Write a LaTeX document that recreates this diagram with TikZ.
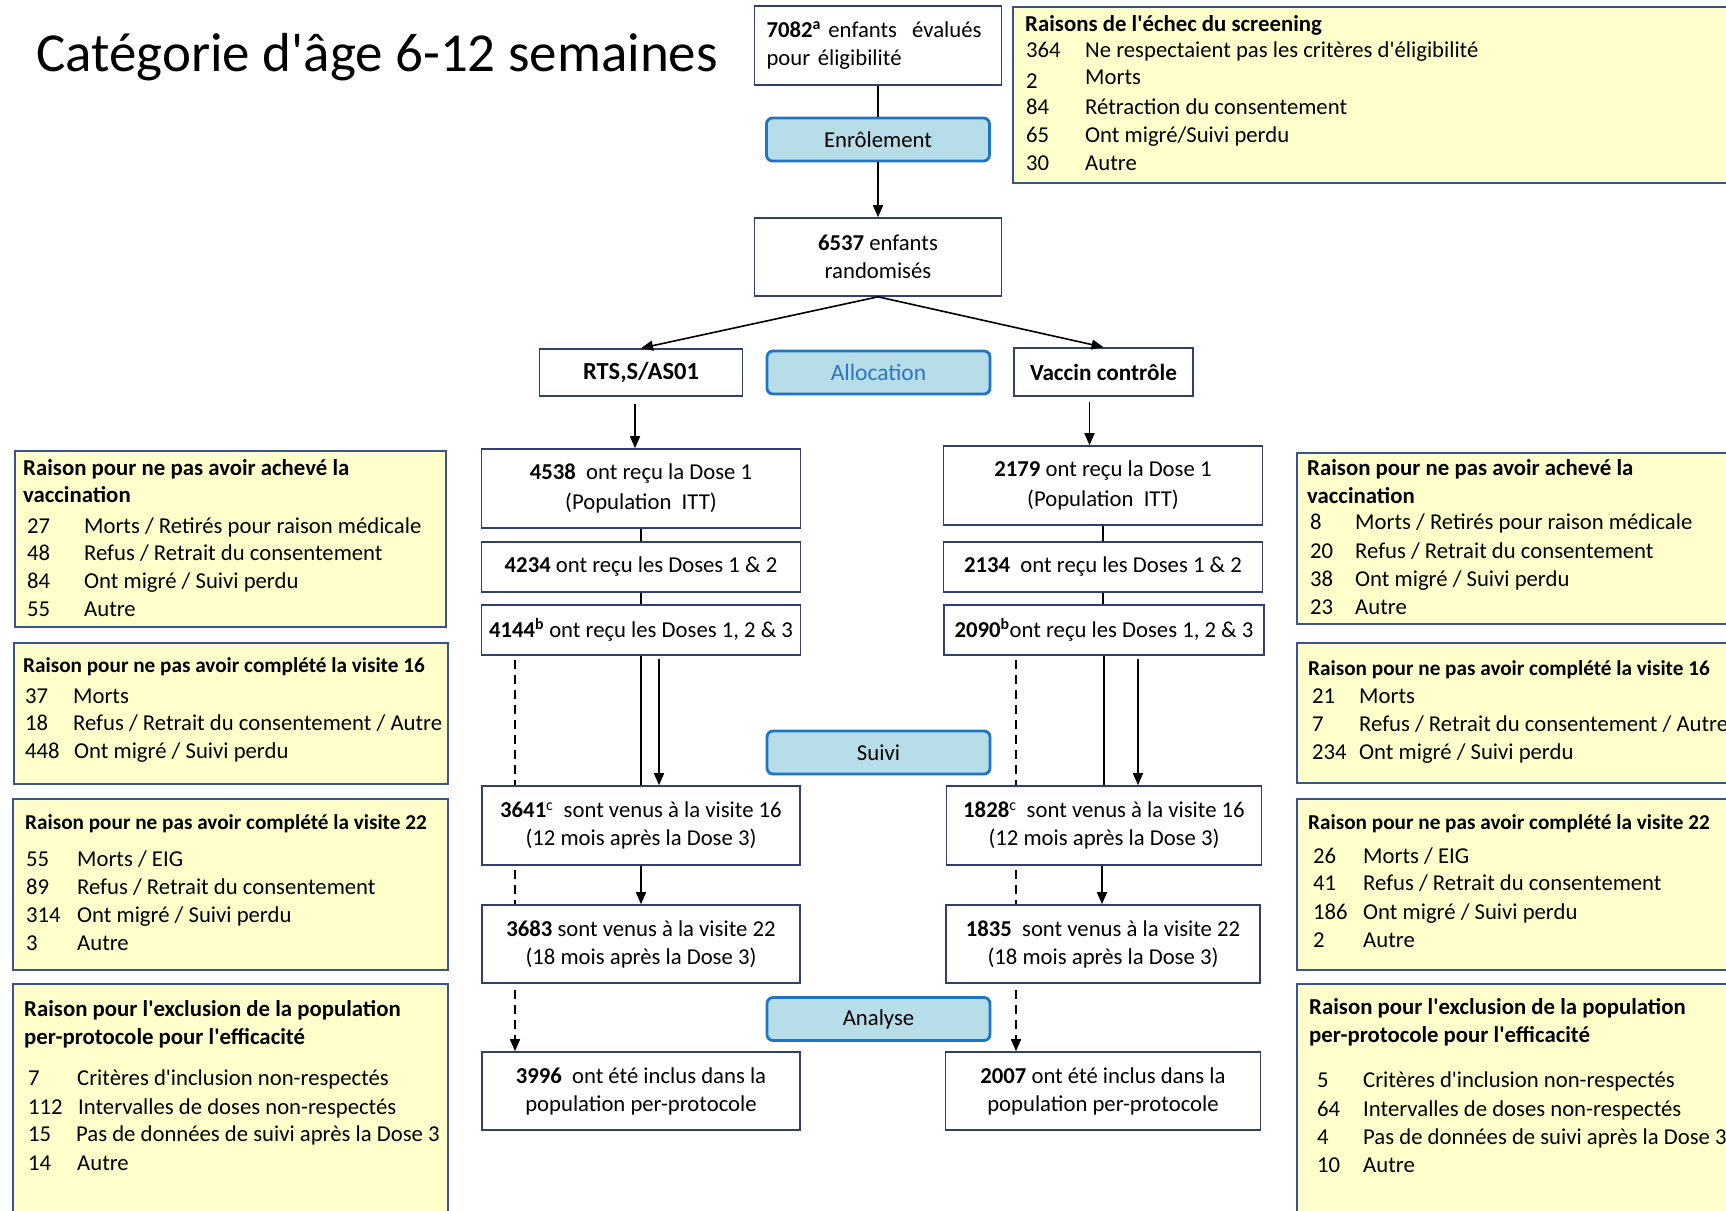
\documentclass[tikz,border=0pt]{standalone}
\usepackage{fontspec}
\setmainfont{Carlito}[Ligatures=TeXOff]
\usetikzlibrary{arrows.meta,calc,backgrounds}
\definecolor{mainborder}{HTML}{2E3F70}
\definecolor{yfill}{HTML}{FFFFCC}
\definecolor{yborder}{HTML}{3A5390}
\definecolor{pfill}{HTML}{B7DDE8}
\definecolor{pborder}{HTML}{1F74C4}
\definecolor{ptext}{HTML}{2E75C6}
\newcommand\fsz{\fontsize{22.7}{28}\selectfont}
\newcommand\fszt{\fontsize{21.2}{28}\selectfont}
\newcommand\fszT{\fontsize{22.8}{28}\selectfont}
\newcommand\yrow[6]{%
  \node[ytext] (#1n) at (#2,#4) {#5};
  \node[ytext] (#1l) at (#3,#4) {#6};}
\begin{document}
\begin{tikzpicture}[x=1pt,y=-1pt,
 mbox/.style={draw=mainborder,line width=1.6pt,fill=white,inner sep=0pt,align=center,font=\fsz},
 ybox/.style={draw=yborder,line width=1.6pt,fill=yfill,inner sep=0pt,anchor=north west},
 pbox/.style={draw=pborder,line width=2.8pt,fill=pfill,rounded corners=6pt,inner sep=0pt,font=\fsz,minimum width=223pt,minimum height=43pt},
 ytext/.style={inner sep=0pt,anchor=base west,font=\fsz},
 ytitle/.style={ytext,font=\fszT\bfseries},
 ytitles/.style={ytext,font=\fszt\bfseries},
 conn/.style={line width=1.6pt,black},
 arr/.style={conn,-{Triangle[width=10pt,length=12pt]}},
 darr/.style={arr,dash pattern=on 9pt off 6pt},
]
\useasboundingbox (0,0) rectangle (1726,1210);
\begin{scope}[on background layer]
\fill[white] (0,0) rectangle (1726,1210);
\end{scope}
\clip (0,0) rectangle (1726,1210);

% title
\node[inner sep=0pt,anchor=base west,font=\fontsize{55}{60}\selectfont] (title) at (36,71) {Catégorie d'âge 6-12 semaines};

% yellow boxes
\node[ybox,minimum width=730pt,minimum height=176pt] (yS) at (1012,6) {};
\node[ybox,minimum width=431pt,minimum height=176pt] (yL1) at (14,450) {};
\node[ybox,minimum width=434pt,minimum height=141pt] (yL2) at (13,642) {};
\node[ybox,minimum width=435pt,minimum height=171pt] (yL3) at (12,798) {};
\node[ybox,minimum width=435pt,minimum height=240pt] (yL4) at (12,983) {};
\node[ybox,minimum width=450pt,minimum height=171pt] (yR1) at (1296,452) {};
\node[ybox,minimum width=450pt,minimum height=140pt] (yR2) at (1296,642) {};
\node[ybox,minimum width=450pt,minimum height=171pt] (yR3) at (1296,798) {};
\node[ybox,minimum width=450pt,minimum height=240pt] (yR4) at (1296,983) {};

% screening text
\node[ytitle] (ySt) at (1025,31) {Raisons de l'échec du screening};
\yrow{yS1}{1026}{1085}{57}{364}{Ne respectaient pas les critères d'éligibilité}
\node[ytext] (yS2n) at (1026,88) {2};
\node[ytext] (yS2l) at (1085,84) {Morts};
\yrow{yS3}{1026}{1085}{114}{84}{Rétraction du consentement}
\yrow{yS4}{1026}{1085}{142}{65}{Ont migré/Suivi perdu}
\yrow{yS5}{1026}{1085}{170}{30}{Autre}

% left 1
\node[ytitle] (yL1t1) at (23,475) {Raison pour ne pas avoir achevé la};
\node[ytitle] (yL1t2) at (23,502) {vaccination};
\yrow{yL1a}{27}{84}{533}{27}{Morts / Retirés pour raison médicale}
\yrow{yL1b}{27}{84}{560}{48}{Refus / Retrait du consentement}
\yrow{yL1c}{27}{84}{588}{84}{Ont migré / Suivi perdu}
\yrow{yL1d}{27}{84}{616}{55}{Autre}
% left 2
\node[ytitles] (yL2t) at (23,672) {Raison pour ne pas avoir complété la visite 16};
\yrow{yL2a}{25}{73}{703}{37}{Morts}
\yrow{yL2b}{25}{73}{730}{18}{Refus / Retrait du consentement / Autre}
\yrow{yL2c}{25}{74}{758}{448}{Ont migré / Suivi perdu}
% left 3
\node[ytitles] (yL3t) at (25,829) {Raison pour ne pas avoir complété la visite 22};
\yrow{yL3a}{26}{77}{866}{55}{Morts / EIG}
\yrow{yL3b}{26}{77}{894}{89}{Refus / Retrait du consentement}
\yrow{yL3c}{26}{77}{922}{314}{Ont migré / Suivi perdu}
\yrow{yL3d}{26}{77}{950}{3}{Autre}
% left 4
\node[ytitle] (yL4t1) at (24,1016) {Raison pour l'exclusion de la population};
\node[ytitle] (yL4t2) at (24,1044) {per-protocole pour l'efficacité};
\yrow{yL4a}{28}{77}{1085}{7}{Critères d'inclusion non-respectés}
\yrow{yL4b}{28}{78}{1114}{112}{Intervalles de doses non-respectés}
\yrow{yL4c}{28}{76}{1141}{15}{Pas de données de suivi après la Dose 3}
\yrow{yL4d}{28}{77}{1170}{14}{Autre}

% right 1
\node[ytitle] (yR1t1) at (1307,475) {Raison pour ne pas avoir achevé la};
\node[ytitle] (yR1t2) at (1307,503) {vaccination};
\yrow{yR1a}{1310}{1355}{529}{8}{Morts / Retirés pour raison médicale}
\yrow{yR1b}{1310}{1355}{558}{20}{Refus / Retrait du consentement}
\yrow{yR1c}{1310}{1355}{586}{38}{Ont migré / Suivi perdu}
\yrow{yR1d}{1310}{1355}{614}{23}{Autre}
% right 2
\node[ytitles] (yR2t) at (1308,675) {Raison pour ne pas avoir complété la visite 16};
\yrow{yR2a}{1312}{1359}{703}{21}{Morts}
\yrow{yR2b}{1312}{1359}{731}{7}{Refus / Retrait du consentement / Autre}
\yrow{yR2c}{1312}{1359}{759}{234}{Ont migré / Suivi perdu}
% right 3
\node[ytitles] (yR3t) at (1308,829) {Raison pour ne pas avoir complété la visite 22};
\yrow{yR3a}{1313}{1363}{863}{26}{Morts / EIG}
\yrow{yR3b}{1313}{1363}{890}{41}{Refus / Retrait du consentement}
\yrow{yR3c}{1313}{1363}{919}{186}{Ont migré / Suivi perdu}
\yrow{yR3d}{1313}{1363}{947}{2}{Autre}
% right 4
\node[ytitle] (yR4t1) at (1309,1014) {Raison pour l'exclusion de la population};
\node[ytitle] (yR4t2) at (1309,1042) {per-protocole pour l'efficacité};
\yrow{yR4a}{1317}{1363}{1087}{5}{Critères d'inclusion non-respectés}
\yrow{yR4b}{1317}{1363}{1116}{64}{Intervalles de doses non-respectés}
\yrow{yR4c}{1317}{1363}{1144}{4}{Pas de données de suivi après la Dose 3}
\yrow{yR4d}{1317}{1363}{1172}{10}{Autre}

% phase boxes
\node[pbox] (enrol) at (878,139.5) {Enrôlement};
\node[pbox,text=ptext,font=\fontsize{23.5}{28}\selectfont] (alloc) at (878.5,372.5) {Allocation};
\node[pbox] (suivi) at (878.5,752.5) {Suivi};
\node[pbox] (analyse) at (878.5,1019) {Analyse};

% main boxes
\node[mbox,minimum width=247pt,minimum height=79pt,text width=223pt,align=left] (b7082) at (878,45.5) {\textbf{7082}\textsuperscript{\textbf{a}} enfants\ \ évalués\\pour éligibilité};
\node[mbox,minimum width=247pt,minimum height=78pt] (rand) at (878,257) {\textbf{6537} enfants\\randomisés};
\node[mbox,minimum width=203pt,minimum height=47pt,font=\fontsize{24.5}{28}\selectfont\bfseries] (rts) at (641,372.5) {RTS,S/AS01};
\node[mbox,minimum width=179pt,minimum height=48pt,font=\fontsize{23.2}{28}\selectfont\bfseries] (ctl) at (1103.5,372) {Vaccin contrôle};

\node[mbox,minimum width=319pt,minimum height=79pt,font=\fontsize{22.7}{30}\selectfont] (d1L) at (641,488.5) {\textbf{4538}\ \ ont reçu la Dose 1\\(Population\ \ ITT)};
\node[mbox,minimum width=319pt,minimum height=50pt] (d2L) at (641,567) {\textbf{4234} ont reçu les Doses 1 \& 2};
\node[mbox,minimum width=319pt,minimum height=50pt] (d3L) at (641,630) {\textbf{4144}\textsuperscript{\textbf{b}} ont reçu les Doses 1, 2 \& 3};
\node[mbox,minimum width=318pt,minimum height=79pt] (v16L) at (641,825.5) {\textbf{3641}\textsuperscript{c}\ \ sont venus à la visite 16\\(12 mois après la Dose 3)};
\node[mbox,minimum width=318pt,minimum height=78pt] (v22L) at (641,944) {\textbf{3683} sont venus à la visite 22\\(18 mois après la Dose 3)};
\node[mbox,minimum width=318pt,minimum height=78pt] (ppL) at (641,1091) {\textbf{3996}\ \ ont été inclus dans la\\population per-protocole};

\node[mbox,minimum width=319pt,minimum height=79pt,font=\fontsize{22.7}{30}\selectfont] (d1R) at (1103,485.5) {\textbf{2179} ont reçu la Dose 1\\(Population\ \ ITT)};
\node[mbox,minimum width=319pt,minimum height=50pt] (d2R) at (1103,567) {\textbf{2134}\ \ ont reçu les Doses 1 \& 2};
\node[mbox,minimum width=320pt,minimum height=50pt] (d3R) at (1104,630) {\textbf{2090}\textsuperscript{\textbf{b}}ont reçu les Doses 1, 2 \& 3};
\node[mbox,minimum width=315pt,minimum height=79pt] (v16R) at (1104,825.5) {\textbf{1828}\textsuperscript{c}\ \ sont venus à la visite 16\\(12 mois après la Dose 3)};
\node[mbox,minimum width=314pt,minimum height=78pt] (v22R) at (1103,944) {\textbf{1835}\ \ sont venus à la visite 22\\(18 mois après la Dose 3)};
\node[mbox,minimum width=315pt,minimum height=78pt] (ppR) at (1103,1091) {\textbf{2007} ont été inclus dans la\\population per-protocole};

% connectors
\draw[conn] (b7082.south) -- (b7082.south |- enrol.north);
\draw[arr] (enrol.south) -- (enrol.south |- rand.north);
\draw[arr] (rand.south) -- (rts.north);
\draw[arr] (rand.south) -- (ctl.north);
\draw[arr] ($(rts.south)+(-6,7)$) coordinate (aL) -- (aL |- d1L.north);
\draw[arr] ($(ctl.south)+(-14,5)$) coordinate (aR) -- (aR |- d1R.north);

\draw[conn] (d1L.south) -- (d2L.north);
\draw[conn] (d2L.south) -- (d3L.north);
\draw[conn] (d1R.south) -- (d1R.south |- d2R.north);
\draw[conn] (d2R.south) -- (d2R.south |- d3R.north);

\draw[conn] (d3L.south) -- (d3L.south |- v16L.north);
\draw[arr] ($(d3L.south)+(18,3)$) coordinate (bL) -- (bL |- v16L.north);
\draw[conn] (d3R.south) -- (d3R.south |- v16R.north);
\draw[arr] ($(d3R.south)+(34,3)$) coordinate (bR) -- (bR |- v16R.north);

\draw[arr] (v16L.south) -- (v16L.south |- v22L.north);
\draw[arr] ($(v16R.south)+(-2,0)$) coordinate (cR) -- (cR |- v22R.north);

\begin{scope}[on background layer]
\draw[darr] ($(d3L.south)+(-126,4)$) coordinate (dL) -- (dL |- ppL.north);
\draw[darr] ($(d3R.south)+(-88,4)$) coordinate (dR) -- (dR |- ppR.north);
\end{scope}
\end{tikzpicture}
\end{document}
